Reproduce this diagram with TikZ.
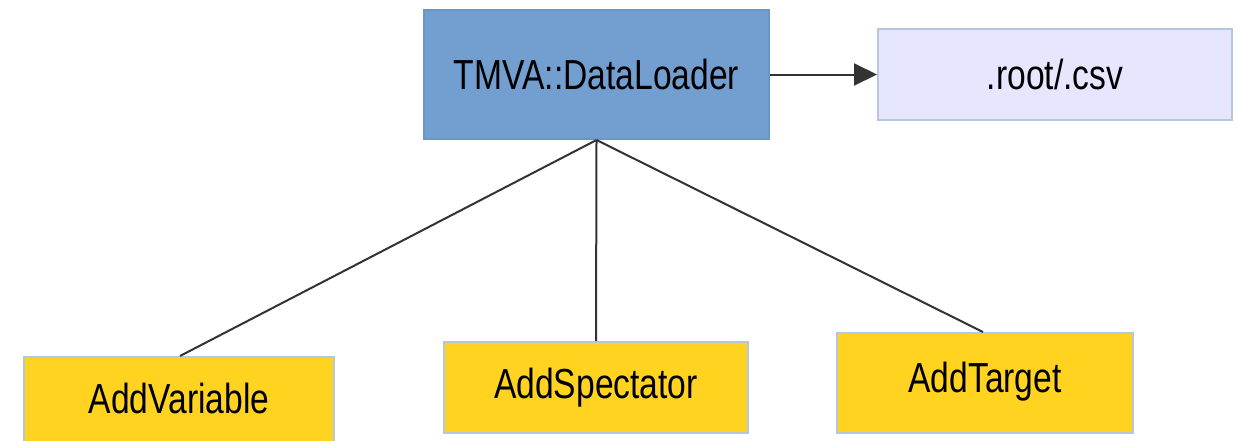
\documentclass[tikz,border=0pt]{standalone}
\usepackage{fontspec}
\setmainfont{Liberation Sans}
\usetikzlibrary{arrows.meta}
\definecolor{loaderfill}{HTML}{729FCF}
\definecolor{loaderedge}{HTML}{6A96C6}
\definecolor{filefill}{HTML}{E6E6FF}
\definecolor{fileedge}{HTML}{B4C7DC}
\definecolor{methodfill}{HTML}{FFD320}
\definecolor{methodedge}{HTML}{B4C7DC}
\definecolor{linkcol}{HTML}{333333}
\newcommand{\boxtext}[1]{\scalebox{1}[1.25]{\fontsize{16.8}{20}\selectfont #1}}
\tikzset{
  box/.style={rectangle, line width=1pt, inner sep=0pt, anchor=north west},
  loader/.style={box, fill=loaderfill, draw=loaderedge},
  filebox/.style={box, fill=filefill, draw=fileedge},
  method/.style={box, fill=methodfill, draw=methodedge},
  link/.style={draw=linkcol, line width=1pt},
}
\begin{document}
\begin{tikzpicture}[x=0.5pt,y=-0.5pt]
  \useasboundingbox (0,0) rectangle (1241,440);
  % boxes (top-left corner, size in px)
  \node[loader, minimum width=172.5pt, minimum height=64.5pt] (dl) at (423,9) {};
  \node at (dl.center) {\boxtext{TMVA::DataLoader}};
  \node[filebox, minimum width=177pt, minimum height=45.5pt] (csv) at (877,28) {};
  \node at (csv.center) {\boxtext{.root/.csv}};
  \node[method, minimum width=155pt, minimum height=44pt] (var) at (23,356) {};
  \node at ([yshift=-21pt]var.north) {\boxtext{AddVariable}};
  \node[method, minimum width=152pt, minimum height=45.5pt] (spec) at (443,341) {};
  \node at (spec.center) {\boxtext{AddSpectator}};
  \node[method, minimum width=148pt, minimum height=50pt] (tgt) at (836,332) {};
  \node at ([yshift=-25pt]tgt.north) {\boxtext{AddTarget}};
  % connectors
  \draw[link, -{Triangle[length=11.5pt,width=11pt]}] (dl.east) -- (csv.west);
  \coordinate (varTop) at (180,356);
  \coordinate (tgtTop) at (983,332);
  \draw[link] (dl.south) -- (varTop);
  \draw[link] (dl.south) -- (spec.north);
  \draw[link] (dl.south) -- (tgtTop);
\end{tikzpicture}
\end{document}
